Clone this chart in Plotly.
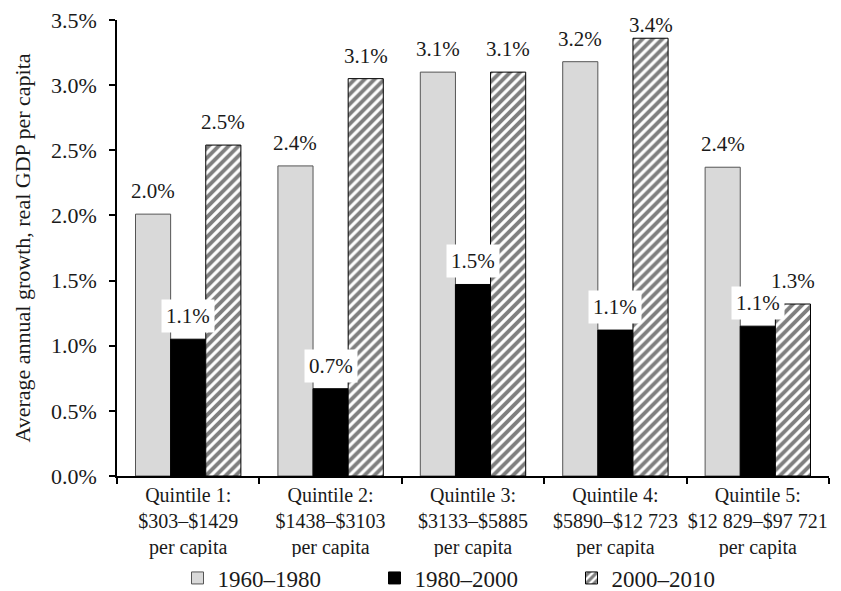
import plotly.graph_objects as go

categories = ["Quintile 1:<br>$303–$1429<br>per capita",
              "Quintile 2:<br>$1438–$3103<br>per capita",
              "Quintile 3:<br>$3133–$5885<br>per capita",
              "Quintile 4:<br>$5890–$12 723<br>per capita",
              "Quintile 5:<br>$12 829–$97 721<br>per capita"]
series_names = ["1960–1980", "1980–2000", "2000–2010"]
v1960 = [2.01, 2.38, 3.10, 3.18, 2.37]
v1980 = [1.05, 0.67, 1.47, 1.12, 1.15]
v2000 = [2.54, 3.05, 3.10, 3.36, 1.32]
lab1960 = ["2.0%", "2.4%", "3.1%", "3.2%", "2.4%"]
lab1980 = ["1.1%", "0.7%", "1.5%", "1.1%", "1.1%"]
lab2000 = ["2.5%", "3.1%", "3.1%", "3.4%", "1.3%"]
yticks = [0, 0.5, 1.0, 1.5, 2.0, 2.5, 3.0, 3.5]
yticklabels = ["0.0%", "0.5%", "1.0%", "1.5%", "2.0%", "2.5%", "3.0%", "3.5%"]

FONT = "Liberation Serif, Times New Roman, serif"
TXT = "#1a1a1a"
W, H = 841, 591
ML, MR, MT, MB = 117, 12, 20, 115
YMAX = 3.5
px_per_unit = (H - MT - MB) / YMAX
xs = list(range(len(categories)))
bargap = 0.26
bw = (1 - bargap) / 3

fig = go.Figure()
fig.add_trace(go.Bar(x=xs, y=v1960, name=series_names[0],
                     marker=dict(color="#d9d9d9", line=dict(color="#555555", width=1))))
fig.add_trace(go.Bar(x=xs, y=v1980, name=series_names[1],
                     marker=dict(color="#000000", line=dict(color="#000000", width=1))))
fig.add_trace(go.Bar(x=xs, y=v2000, name=series_names[2],
                     marker=dict(color="#ffffff", line=dict(color="#000000", width=1),
                                 pattern=dict(shape="/", fgcolor="#000000", bgcolor="#ffffff",
                                              size=7, solidity=0.55))))

anns = []
for vals, labs, off, bg in [(v1960, lab1960, -bw, None), (v1980, lab1980, 0, "white"), (v2000, lab2000, bw, None)]:
    for i, (v, l) in enumerate(zip(vals, labs)):
        room = (YMAX - v) * px_per_unit - 5
        a = dict(x=i + off, y=v, text=l, showarrow=False, xref="x", yref="y",
                 yanchor="middle", yshift=min(23, room), font=dict(family=FONT, size=21, color=TXT))
        if bg:
            a.update(bgcolor=bg, borderpad=4)
        anns.append(a)

fig.update_layout(
    width=W, height=H,
    margin=dict(l=ML, r=MR, t=MT, b=MB, autoexpand=False),
    plot_bgcolor="white", paper_bgcolor="white",
    barmode="group", bargap=bargap, bargroupgap=0,
    font=dict(family=FONT, size=20, color=TXT),
    annotations=anns,
    showlegend=True,
    legend=dict(orientation="h", x=0.5, xanchor="center", xref="paper",
                y=1 - 578 / 591, yanchor="middle", yref="container",
                font=dict(family=FONT, size=23, color=TXT), entrywidth=152,
                itemclick=False),
    xaxis=dict(range=[-0.5, len(categories) - 0.5], tickvals=xs, ticktext=categories,
               ticks="", showline=True, linecolor="black", linewidth=1.5,
               showgrid=False, zeroline=False, automargin=False,
               tickfont=dict(family=FONT, size=20, color=TXT),
               minor=dict(tickvals=[i - 0.5 for i in range(len(categories) + 1)],
                          ticks="outside", ticklen=6, tickcolor="black", tickwidth=1.5, showgrid=False)),
    yaxis=dict(range=[0, YMAX], tickvals=yticks, ticktext=yticklabels,
               ticks="outside", ticklen=6, tickcolor="black", tickwidth=1.5, ticklabelstandoff=8,
               showline=True, linecolor="black", linewidth=1.5, showgrid=False, zeroline=False,
               automargin=False,
               tickfont=dict(family=FONT, size=22, color=TXT),
               title=dict(text="Average annual growth, real GDP per capita",
                          font=dict(family=FONT, size=22, color=TXT), standoff=14)),
)
fig.write_html("out.html", config={"displayModeBar": False},
               post_script="document.body.style.margin='0';")
